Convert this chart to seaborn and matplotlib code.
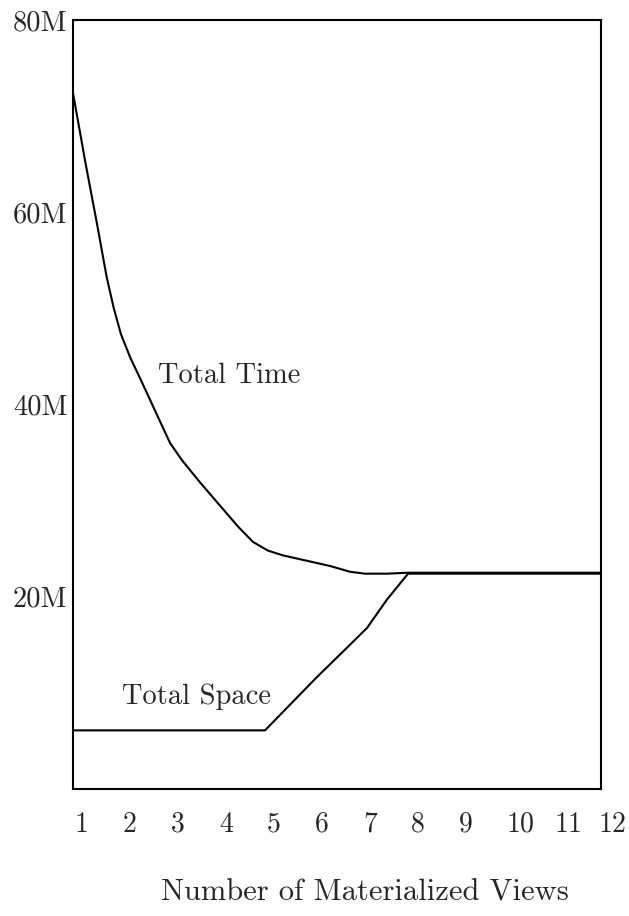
import matplotlib
matplotlib.use("Agg")
import matplotlib.pyplot as plt
import matplotlib.transforms as mtransforms
import seaborn as sns
import pandas as pd

# Data (y in millions)
time_x = [1.0, 1.25, 1.5, 1.7, 1.85, 2.0, 2.2, 2.4, 2.604, 3.021, 3.271, 3.646,
          4.438, 4.75, 5.0625, 5.375, 6.0, 6.354, 6.771, 7.083, 7.542, 7.979, 12.0]
time_y = [72.4, 65.4, 58.8, 53.3, 50.0, 47.3, 44.8, 42.7, 40.5, 36.0, 34.2, 31.9,
          27.3, 25.7, 24.8, 24.3, 23.6, 23.2, 22.6, 22.4, 22.4, 22.5, 22.5]
space_x = [1.0, 5.0, 6.083, 6.708, 7.125, 7.54, 7.98, 12.0]
space_y = [6.1, 6.1, 11.65, 14.7, 16.75, 19.7, 22.4, 22.4]

x_ticks = list(range(1, 13))
x_tick_labels = [str(v) for v in x_ticks]
y_ticks = [20, 40, 60, 80]
y_tick_labels = ["20M", "40M", "60M", "80M"]
x_label = "Number of Materialized Views"
series_labels = ["Total Time", "Total Space"]

df = pd.concat([
    pd.DataFrame({"x": time_x, "y": time_y, "series": series_labels[0]}),
    pd.DataFrame({"x": space_x, "y": space_y, "series": series_labels[1]}),
], ignore_index=True)

sns.set_style("white")
plt.rcParams["font.family"] = ["cmr10", "DejaVu Serif"]
plt.rcParams["axes.formatter.use_mathtext"] = True

W, H = 629, 916
fig = plt.figure(figsize=(W / 100, H / 100), dpi=100)
ax = fig.add_axes([73 / W, 1 - 789 / H, (601 - 73) / W, (789 - 20) / H])

sns.lineplot(data=df, x="x", y="y", units="series", estimator=None, sort=False,
             color="black", linewidth=1.5, ax=ax, legend=False)

ax.set_xlim(1, 12)
ax.set_ylim(0, 80)
ax.set_xlabel("")
ax.set_ylabel("")

FS = 20.5
ax.set_yticks(y_ticks)
ax.set_yticklabels(y_tick_labels, fontsize=FS)
ax.set_xticks(x_ticks)
ax.set_xticklabels(x_tick_labels, fontsize=20)
ax.tick_params(axis="both", length=0)
ax.tick_params(axis="y", pad=4)
ax.tick_params(axis="x", pad=16)
labels = ax.get_xticklabels()
for i, lab in enumerate(labels):
    if i == len(labels) - 1:
        lab.set_horizontalalignment("right")
        off = mtransforms.ScaledTranslation(25 / 100, 0, fig.dpi_scale_trans)
    else:
        lab.set_horizontalalignment("left")
        off = mtransforms.ScaledTranslation(2 / 100, 0, fig.dpi_scale_trans)
    lab.set_transform(lab.get_transform() + off)

for s in ax.spines.values():
    s.set_visible(True)
    s.set_color("black")
    s.set_linewidth(1.5)

ax.text(2.77, 43.0, series_labels[0], fontsize=FS, va="center", ha="left")
ax.text(2.02, 9.6, series_labels[1], fontsize=FS, va="center", ha="left")

fig.text(365 / W, 1 - 893 / H, x_label, fontsize=22, ha="center", va="center")

fig.savefig("out.png", dpi=100)
